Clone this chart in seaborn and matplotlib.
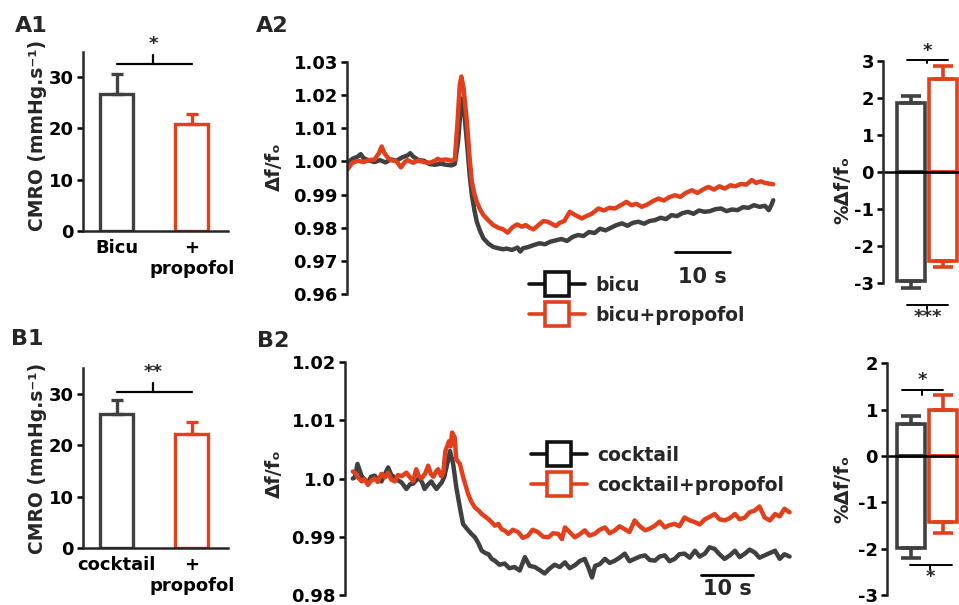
import matplotlib
matplotlib.use("Agg")
import matplotlib.pyplot as plt
from matplotlib.lines import Line2D
import numpy as np
import pandas as pd
import seaborn as sns

# ---------------- data ----------------
a1_conditions = ["Bicu", "+\npropofol"]
a1_cmro = [26.7, 20.8]
a1_cmro_sem = [3.9, 2.0]

b1_conditions = ["cocktail", "+\npropofol"]
b1_cmro = [26.1, 22.2]
b1_cmro_sem = [2.7, 2.4]

a2_labels = ["bicu", "bicu+propofol"]
a2_time_bicu = [0, 1, 2, 2.5, 3, 4, 5, 6, 7, 8, 9, 10, 11, 11.5, 12, 13, 14, 15, 16, 17,
                18, 19, 19.6, 20.2, 20.8, 21.3, 21.8, 22.3, 22.7, 23.2, 23.6, 24.2, 24.8,
                25.7, 26.6, 27.5, 28.4, 29, 30, 31, 31.5, 32, 33, 34, 35, 36, 37, 38, 39,
                40, 41, 42, 43, 44, 45, 46, 47, 48, 49, 50, 51, 52, 53, 54, 55, 56, 57,
                58, 59, 60, 61, 62, 63, 64, 65, 66, 67, 68, 69, 70, 71, 72, 73, 74, 75,
                76, 76.7, 77.2, 77.5]
a2_bicu = [0.9995, 1.0008, 1.0015, 1.0022, 1.0010, 1.0003, 0.9998, 1.0004, 0.9997, 1.0006,
           1.0002, 1.0012, 1.0018, 1.0025, 1.0015, 1.0004, 1.0002, 0.9992, 0.9990, 0.9993,
           0.9990, 0.9988, 0.9992, 1.0060, 1.0190, 1.0150, 1.0060, 0.9960, 0.9898, 0.9850,
           0.9818, 0.9790, 0.9768, 0.9752, 0.9742, 0.9738, 0.9735, 0.9737, 0.9733, 0.9740,
           0.9728, 0.9738, 0.9742, 0.9748, 0.9753, 0.9750, 0.9758, 0.9762, 0.9766, 0.9760,
           0.9772, 0.9778, 0.9775, 0.9787, 0.9784, 0.9797, 0.9792, 0.9800, 0.9808, 0.9813,
           0.9806, 0.9815, 0.9818, 0.9812, 0.9820, 0.9823, 0.9830, 0.9826, 0.9838, 0.9835,
           0.9844, 0.9848, 0.9842, 0.9852, 0.9848, 0.9850, 0.9856, 0.9858, 0.9850, 0.9855,
           0.9853, 0.9862, 0.9860, 0.9868, 0.9863, 0.9866, 0.9853, 0.9870, 0.9883]
a2_time_prop = [0, 0.5, 1, 2, 3, 4, 5, 5.8, 6.3, 6.8, 7.5, 8, 9, 9.8, 10.5, 11, 12, 13, 14,
                15, 16, 16.5, 17, 18, 19, 19.6, 20.1, 20.5, 20.8, 21.2, 21.8, 22.3, 22.7,
                23.2, 23.6, 24.2, 24.8, 25.7, 26.6, 27.5, 28.4, 29.2, 30, 30.9, 31.8, 32.5,
                33.2, 33.9, 34.8, 35.7, 36.5, 37.2, 38, 38.7, 39.5, 40.5, 41.5, 42.7, 43.5,
                44.5, 45.7, 46.7, 47.7, 48.7, 49.8, 50.8, 51.7, 52.6, 53.6, 54.6, 55.6, 56.6,
                57.6, 58.6, 59.6, 60.6, 61.6, 62.7, 63.7, 64.7, 65.7, 66.7, 67.7, 68.7, 69.7,
                70.6, 71.6, 72.6, 73.6, 74.4, 75.2, 76, 76.8, 77.5]
a2_prop = [0.9974, 0.9985, 0.9996, 1.0002, 0.9998, 1.0004, 1.0006, 1.0025, 1.0045, 1.0025,
           1.0010, 1.0004, 1.0000, 0.9982, 0.9998, 1.0004, 0.9996, 1.0003, 0.9998, 0.9996,
           1.0002, 1.0008, 1.0004, 1.0006, 1.0002, 1.0006, 1.0120, 1.0230, 1.0256, 1.0220,
           1.0120, 1.0010, 0.9938, 0.9900, 0.9878, 0.9855, 0.9838, 0.9822, 0.9808, 0.9800,
           0.9795, 0.9785, 0.9800, 0.9810, 0.9803, 0.9808, 0.9800, 0.9795, 0.9808, 0.9820,
           0.9818, 0.9812, 0.9805, 0.9815, 0.9820, 0.9848, 0.9838, 0.9828, 0.9835, 0.9842,
           0.9858, 0.9852, 0.9860, 0.9858, 0.9868, 0.9878, 0.9868, 0.9872, 0.9863, 0.9870,
           0.9880, 0.9888, 0.9882, 0.9892, 0.9898, 0.9893, 0.9905, 0.9913, 0.9905, 0.9915,
           0.9923, 0.9915, 0.9925, 0.9918, 0.9928, 0.9925, 0.9932, 0.9930, 0.9944, 0.9935,
           0.9940, 0.9935, 0.9933, 0.9931]

b2_labels = ["cocktail", "cocktail+propofol"]
b2_time_cocktail = [0, 0.4, 0.9, 1.7, 2.3, 2.9, 3.5, 4.2, 4.8, 5.5, 6.2, 6.8, 7.4, 8.1, 8.7,
                    9.4, 10.3, 11, 11.6, 12.3, 12.9, 13.4, 13.8, 14.5, 15.1, 15.6, 16.1, 16.6,
                    17.1, 17.6, 18.0, 18.7, 19.3, 19.9, 20.6, 21.2, 22.2, 22.8, 23.5, 24.2,
                    24.8, 25.5, 26.1, 26.7, 27.3, 28.2, 29.2, 30.1, 31.1, 32.1, 33.1, 34, 35,
                    35.9, 36.9, 37.8, 38.8, 39.8, 40.8, 41.7, 42.7, 43.6, 44.6, 45.4, 46, 46.6,
                    47.5, 48.5, 49.4, 50.4, 51.3, 52.3, 53.2, 54.2, 55.2, 56.2, 57.1, 58.1, 59,
                    60, 60.9, 61.9, 62.8, 63.8, 64.8, 65.8, 66.7, 67.7, 68.6, 69.6, 70.5, 71.5,
                    72.5, 73.5, 74.4, 75.4, 76.3, 77.3, 78.2, 79.2, 80.2, 81.2, 82.1, 83, 84]
b2_cocktail = [1.0000, 1.0002, 1.0025, 1.0004, 0.9998, 0.9993, 1.0003, 1.0005, 0.9998, 0.9995,
               1.0008, 1.0019, 1.0006, 1.0002, 0.9997, 0.9993, 0.9982, 0.9990, 0.9991, 0.9998,
               1.0000, 0.9992, 0.9982, 0.9990, 0.9995, 0.9988, 0.9982, 0.9988, 0.9993, 1.0003,
               1.0019, 1.0047, 1.0025, 0.9985, 0.9950, 0.9922, 0.9911, 0.9905, 0.9899, 0.9888,
               0.9876, 0.9872, 0.9870, 0.9862, 0.9859, 0.9852, 0.9854, 0.9846, 0.9848, 0.9842,
               0.9865, 0.9850, 0.9848, 0.9843, 0.9837, 0.9845, 0.9852, 0.9848, 0.9856, 0.9846,
               0.9851, 0.9858, 0.9862, 0.9845, 0.9830, 0.9850, 0.9853, 0.9862, 0.9855, 0.9859,
               0.9864, 0.9871, 0.9858, 0.9862, 0.9866, 0.9868, 0.9860, 0.9859, 0.9866, 0.9868,
               0.9858, 0.9862, 0.9870, 0.9871, 0.9864, 0.9876, 0.9866, 0.9871, 0.9882, 0.9879,
               0.9870, 0.9862, 0.9868, 0.9876, 0.9865, 0.9871, 0.9878, 0.9873, 0.9864, 0.9868,
               0.9872, 0.9876, 0.9862, 0.9870, 0.9866]
b2_time_prop = [0, 0.4, 1, 1.7, 2.3, 2.9, 3.5, 4.2, 4.8, 5.5, 6.2, 6.8, 7.4, 8.1, 8.7, 9.4,
                10.3, 11, 11.6, 12.2, 12.7, 13.2, 13.9, 14.5, 15, 15.5, 16, 16.4, 17, 17.4,
                17.8, 18.5, 18.8, 19.1, 19.6, 19.9, 20.6, 21.2, 21.7, 22.2, 22.8, 23.5, 24.2,
                24.8, 25.4, 26.1, 26.7, 27.3, 28, 28.6, 29.3, 29.9, 30.8, 31.8, 32.7, 33.7,
                34.6, 35.6, 36.6, 37.6, 38.5, 39.5, 40.2, 40.8, 41.7, 42.7, 43.6, 44.6, 45.5,
                46.5, 47.5, 48.5, 49.4, 50.4, 51.3, 52.3, 53.2, 54.2, 55.2, 56.2, 57.1, 58.1,
                59, 60, 60.9, 61.9, 62.8, 63.8, 64.8, 65.8, 66.7, 67.7, 68.6, 69.6, 70.5,
                71.5, 72.5, 73.5, 74.4, 75.4, 76.3, 77.3, 78.2, 79.2, 80.2, 81.2, 82.1, 83, 84]
b2_prop = [1.0012, 1.0010, 1.0002, 0.9995, 0.9999, 0.9989, 0.9996, 1.0000, 0.9994, 1.0008,
           1.0002, 1.0010, 0.9998, 0.9995, 1.0006, 1.0004, 1.0010, 1.0002, 0.9995, 1.0016,
           1.0004, 1.0000, 1.0008, 1.0022, 1.0008, 1.0003, 1.0012, 1.0016, 1.0004, 1.0010,
           1.0047, 1.0064, 1.0055, 1.0079, 1.0070, 1.0033, 1.0025, 1.0003, 0.9988, 0.9973,
           0.9960, 0.9950, 0.9945, 0.9939, 0.9935, 0.9930, 0.9925, 0.9919, 0.9922, 0.9913,
           0.9910, 0.9905, 0.9912, 0.9908, 0.9898, 0.9902, 0.9912, 0.9908, 0.9900, 0.9899,
           0.9906, 0.9905, 0.9896, 0.9916, 0.9908, 0.9899, 0.9904, 0.9911, 0.9902, 0.9905,
           0.9912, 0.9916, 0.9906, 0.9911, 0.9918, 0.9913, 0.9908, 0.9928, 0.9918, 0.9911,
           0.9914, 0.9919, 0.9926, 0.9916, 0.9920, 0.9922, 0.9918, 0.9933, 0.9928, 0.9925,
           0.9921, 0.9930, 0.9934, 0.9939, 0.9930, 0.9928, 0.9932, 0.9939, 0.9930, 0.9933,
           0.9942, 0.9945, 0.9952, 0.9933, 0.9928, 0.9939, 0.9935, 0.9948, 0.9942]

a2_peak = [1.85, 2.50]
a2_peak_sem = [0.20, 0.37]
a2_trough = [-2.95, -2.40]
a2_trough_sem = [0.18, 0.18]

b2_peak = [0.68, 0.99]
b2_peak_sem = [0.18, 0.32]
b2_trough = [-1.98, -1.43]
b2_trough_sem = [0.22, 0.24]

scale_len_s = 10

# ---------------- style ----------------
sns.set_theme(style="ticks")
plt.rcParams["font.family"] = ["DejaVu Sans"]
plt.rcParams["font.weight"] = "bold"
plt.rcParams["axes.labelweight"] = "bold"
plt.rcParams["axes.unicode_minus"] = False
plt.rcParams["axes.linewidth"] = 1.8
plt.rcParams["xtick.major.width"] = 1.8
plt.rcParams["ytick.major.width"] = 1.8
plt.rcParams["ytick.major.size"] = 4
plt.rcParams["ytick.major.pad"] = 2.5

GRAY = "#404040"
RED = "#E2401C"
TICK_FS = 13
LABEL_FS = 14

W, H = 959, 605
fig = plt.figure(figsize=(W / 100, H / 100), dpi=100)


def add_axes_px(left, top, right, bottom):
    return fig.add_axes([left / W, 1 - bottom / H, (right - left) / W, (bottom - top) / H])


def style_axis(ax, show_bottom):
    ax.spines["top"].set_visible(False)
    ax.spines["right"].set_visible(False)
    ax.spines["bottom"].set_visible(show_bottom)
    ax.tick_params(axis="y", labelsize=TICK_FS, colors="black", direction="out")
    ax.tick_params(axis="x", length=0, labelsize=TICK_FS, colors="black")
    for lab in ax.get_yticklabels() + ax.get_xticklabels():
        lab.set_fontweight("bold")
    ax.set_facecolor("none")


# ---------------- CMRO bar panels ----------------
def cmro_panel(ax, conds, vals, sems, stars, sig_y, star_y, label_y):
    sns.barplot(x=conds, y=vals, hue=conds, palette=[GRAY, RED], fill=False,
                linewidth=2.4, width=0.44, errorbar=None, legend=False, ax=ax)
    for i, (v, s, c) in enumerate(zip(vals, sems, [GRAY, RED])):
        ax.errorbar([i], [v], yerr=[[0], [s]], fmt="none", ecolor=c,
                    elinewidth=2.4, capsize=4.5, capthick=2.4, clip_on=False)
    ax.set_xlim(-0.45, 1.48)
    ax.set_ylim(0, 35)
    ax.set_yticks([0, 10, 20, 30])
    style_axis(ax, True)
    ax.tick_params(axis="x", pad=6)
    ax.set_ylabel("CMRO (mmHg.s⁻¹)", fontsize=13.5, fontweight="bold")
    ax.yaxis.set_label_coords(-0.25, label_y)
    ax.plot([0, 1], [sig_y, sig_y], color="black", lw=1.6, clip_on=False)
    ax.plot([0.48, 0.48], [sig_y, sig_y + 1.8], color="black", lw=1.6, clip_on=False)
    ax.text(0.48, star_y, stars, ha="center", va="center", fontsize=13,
            fontweight="bold", clip_on=False)


ax_a1 = add_axes_px(83, 51.5, 228, 231)
cmro_panel(ax_a1, a1_conditions, a1_cmro, a1_cmro_sem, "*", 32.5, 36.4, 0.53)

ax_b1 = add_axes_px(83, 368.3, 228, 548)
cmro_panel(ax_b1, b1_conditions, b1_cmro, b1_cmro_sem, "**", 30.4, 34.2, 0.5)


# ---------------- trace panels ----------------
def trace_panel(ax, times, vals, labels, xlim, ylim, yticks, yticklabels):
    df = pd.concat([
        pd.DataFrame({"t": times[0], "v": vals[0], "cond": labels[0]}),
        pd.DataFrame({"t": times[1], "v": vals[1], "cond": labels[1]}),
    ])
    sns.lineplot(data=df, x="t", y="v", hue="cond", palette=[GRAY, RED],
                 estimator=None, sort=False, linewidth=3.2, legend=False, ax=ax)
    ax.set_xlim(*xlim)
    ax.set_ylim(*ylim)
    ax.set_yticks(yticks)
    ax.set_yticklabels(yticklabels)
    ax.set_xticks([])
    ax.set_xlabel("")
    style_axis(ax, False)
    ax.set_ylabel("Δf/fₒ", fontsize=LABEL_FS, fontweight="bold")


ax_a2 = add_axes_px(347, 62, 798, 294)
trace_panel(ax_a2, [a2_time_bicu, a2_time_prop], [a2_bicu, a2_prop], a2_labels,
            (0, 82), (0.96, 1.03),
            [0.96, 0.97, 0.98, 0.99, 1.00, 1.01, 1.02, 1.03],
            ["0.96", "0.97", "0.98", "0.99", "1.00", "1.01", "1.02", "1.03"])
ax_a2.yaxis.set_label_coords(-0.14, 0.55)
ax_a2.plot([59.6, 59.6 + scale_len_s], [0.9726, 0.9726], color="black", lw=2, clip_on=False)
ax_a2.text(59.6 + scale_len_s / 2, 0.9651, f"{scale_len_s} s", ha="center", va="center",
           fontsize=15, fontweight="bold", clip_on=False)

ax_b2 = add_axes_px(345, 362, 800, 595)
trace_panel(ax_b2, [b2_time_cocktail, b2_time_prop], [b2_cocktail, b2_prop], b2_labels,
            (-1.5, 86), (0.98, 1.02),
            [0.98, 0.99, 1.00, 1.01, 1.02],
            ["0.98", "0.99", "1.0", "1.01", "1.02"])
ax_b2.yaxis.set_label_coords(-0.134, 0.52)
ax_b2.plot([67, 67 + scale_len_s], [0.9834, 0.9834], color="black", lw=2, clip_on=False)
ax_b2.text(67 + scale_len_s / 2, 0.9811, f"{scale_len_s} s", ha="center", va="center",
           fontsize=15, fontweight="bold", clip_on=False)


def legend_handles(labels):
    return [Line2D([], [], color=c, lw=2.6, marker="s", markersize=17,
                   markerfacecolor="white", markeredgecolor=c, markeredgewidth=2.6,
                   label=l) for c, l in zip(["#111111", RED], labels)]


leg_kw = dict(frameon=False, loc="upper left", borderpad=0, borderaxespad=0,
              handlelength=3.0, handletextpad=0.55, labelspacing=0.58,
              prop={"size": 13.5, "weight": "bold"}, bbox_transform=fig.transFigure)
ax_a2.legend(handles=legend_handles(a2_labels), bbox_to_anchor=(529 / W, 1 - 276 / H), **leg_kw)
ax_b2.legend(handles=legend_handles(b2_labels), bbox_to_anchor=(531 / W, 1 - 446 / H), **leg_kw)


# ---------------- peak / trough box panels ----------------
def box_panel(ax, labels, peak, peak_sem, trough, trough_sem, xlim, ylim, yticks):
    sns.barplot(x=labels, y=peak, hue=labels, palette=[GRAY, RED], fill=False,
                linewidth=2.6, width=0.86, errorbar=None, legend=False, ax=ax)
    sns.barplot(x=labels, y=trough, hue=labels, palette=[GRAY, RED], fill=False,
                linewidth=2.6, width=0.86, errorbar=None, legend=False, ax=ax)
    for i, c in enumerate([GRAY, RED]):
        ax.errorbar([i], [peak[i]], yerr=[[0], [peak_sem[i]]], fmt="none", ecolor=c,
                    elinewidth=2.6, capsize=7, capthick=2.6, clip_on=False)
        ax.errorbar([i], [trough[i]], yerr=[[trough_sem[i]], [0]], fmt="none", ecolor=c,
                    elinewidth=2.6, capsize=7, capthick=2.6, clip_on=False)
    ax.axhline(0, color="black", lw=1.8, clip_on=False)
    ax.set_xlim(*xlim)
    ax.set_ylim(*ylim)
    ax.set_yticks(yticks)
    ax.set_xticks([])
    ax.set_xlabel("")
    style_axis(ax, False)
    ax.set_ylabel("%Δf/fₒ", fontsize=LABEL_FS, fontweight="bold")


ax_a3 = add_axes_px(883, 60.7, 959, 282.7)
box_panel(ax_a3, a2_labels, a2_peak, a2_peak_sem, a2_trough, a2_trough_sem,
          (-0.846, 1.49), (-3, 3), [3, 2, 1, 0, -1, -2, -3])
ax_a3.yaxis.set_label_coords(-0.40, 0.42)
ax_a3.plot([-0.11, 1.15], [3.02, 3.02], color="black", lw=1.4, clip_on=False)
ax_a3.plot([0.52, 0.52], [3.02, 2.94], color="black", lw=1.4, clip_on=False)
ax_a3.text(0.52, 3.27, "*", ha="center", va="center", fontsize=13, fontweight="bold", clip_on=False)
ax_a3.plot([-0.11, 1.15], [-3.6, -3.6], color="black", lw=1.4, clip_on=False)
ax_a3.plot([0.52, 0.52], [-3.6, -3.7], color="black", lw=1.4, clip_on=False)
ax_a3.text(0.52, -3.92, "***", ha="center", va="center", fontsize=13, fontweight="bold", clip_on=False)

ax_b3 = add_axes_px(887, 363.3, 959, 595)
box_panel(ax_b3, b2_labels, b2_peak, b2_peak_sem, b2_trough, b2_trough_sem,
          (-0.723, 1.49), (-3, 2), [2, 1, 0, -1, -2, -3])
ax_b3.yaxis.set_label_coords(-0.48, 0.46)
ax_b3.plot([-0.26, 1.0], [1.42, 1.42], color="black", lw=1.4, clip_on=False)
ax_b3.plot([0.36, 0.36], [1.42, 1.32], color="black", lw=1.4, clip_on=False)
ax_b3.text(0.36, 1.64, "*", ha="center", va="center", fontsize=13, fontweight="bold", clip_on=False)
ax_b3.plot([-0.02, 1.28], [-2.36, -2.36], color="black", lw=1.4, clip_on=False)
ax_b3.plot([0.6, 0.6], [-2.36, -2.46], color="black", lw=1.4, clip_on=False)
ax_b3.text(0.6, -2.62, "*", ha="center", va="center", fontsize=13, fontweight="bold", clip_on=False)

# ---------------- panel letters ----------------
for txt, x, y in [("A1", 15, 32), ("A2", 256, 32), ("B1", 11, 345), ("B2", 257, 347)]:
    fig.text(x / W, 1 - y / H, txt, fontsize=16, fontweight="bold", va="baseline", ha="left")

fig.savefig("out.png", dpi=100, facecolor="white")
